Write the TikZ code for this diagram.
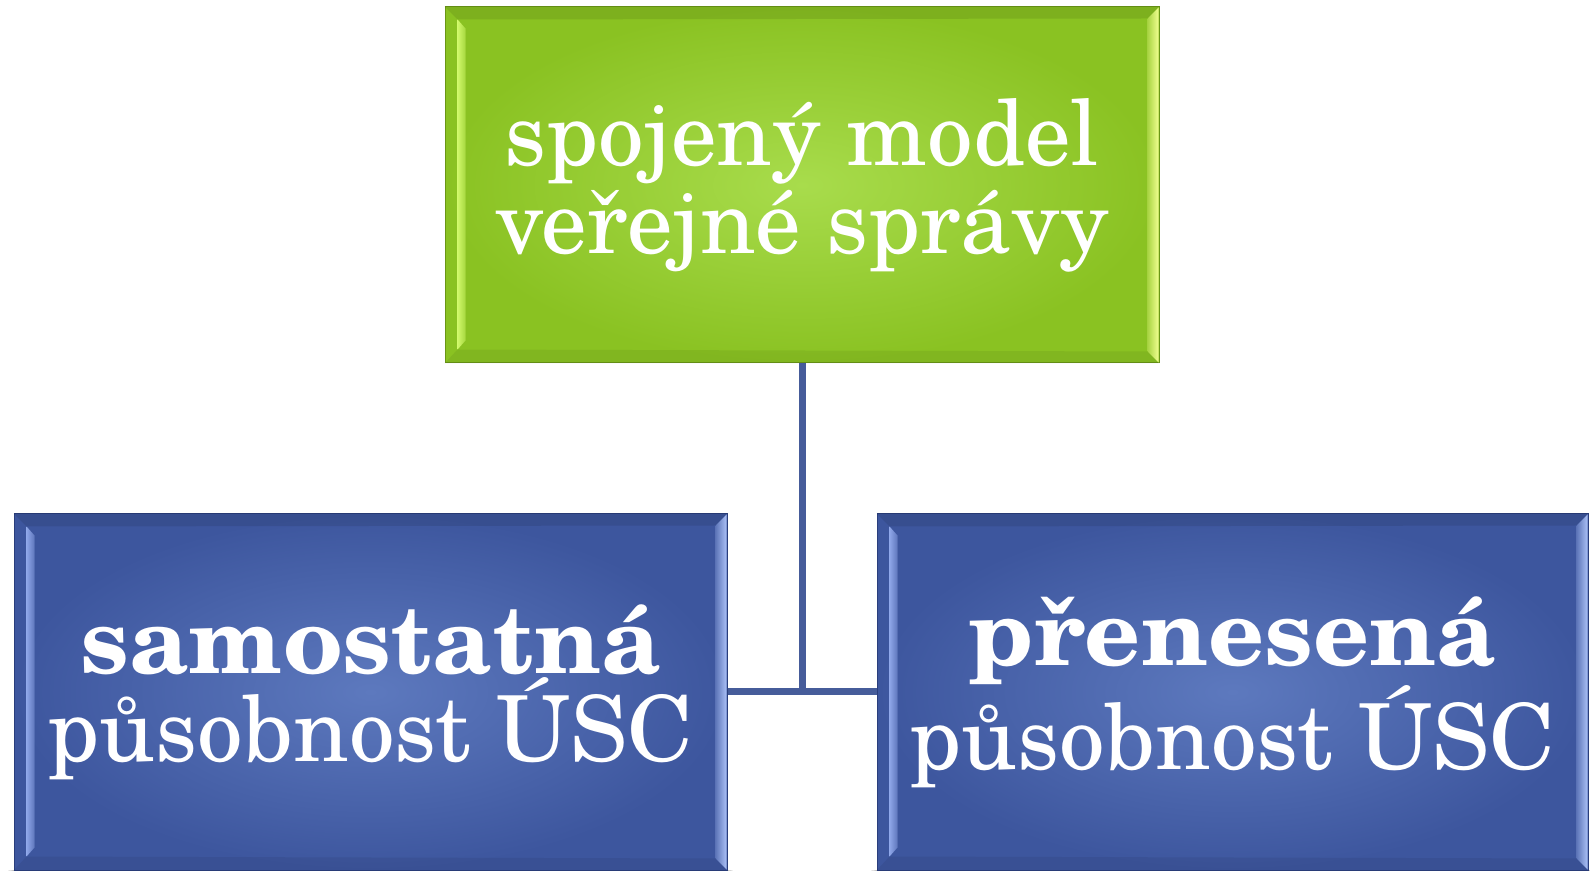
\documentclass[tikz,border=0pt]{standalone}
\usepackage{fontspec}
\setmainfont{TeX Gyre Schola}
\usetikzlibrary{backgrounds}
\definecolor{gbase}{HTML}{8AC222}
\definecolor{gcenter}{HTML}{A8DC4C}
\definecolor{gedge}{HTML}{6A9616}
\definecolor{glight}{HTML}{D0F86A}
\definecolor{glight2}{HTML}{F0FF90}
\definecolor{bbase}{HTML}{3D569E}
\definecolor{bcenter}{HTML}{5D79BE}
\definecolor{bedge}{HTML}{2A3E7C}
\definecolor{blight}{HTML}{8EA6E8}
\definecolor{blight2}{HTML}{AAC0F6}
\definecolor{conn}{HTML}{465C9A}
\tikzset{
  box/.style={rectangle, inner sep=0pt, line width=1pt, text=white, align=center,
    font=\fontsize{91}{88}\selectfont},
  greenbox/.style={box, draw=gedge, inner color=gcenter, outer color=gbase},
  bluebox/.style={box, draw=bedge, inner color=bcenter, outer color=bbase},
  connline/.style={draw=conn, line width=7pt},
}
\newcommand\boldword[1]{\scalebox{1.03}[1]{\fontsize{95}{88}\selectfont\bfseries #1}}
\newcommand\bevelbox[4]{%
  \fill[black,opacity=0.09] (#1.north west) -- (#1.north east) -- ([shift={(-11,-12)}]#1.north east) -- ([shift={(13,-13)}]#1.north west) -- cycle;
  \fill[black,opacity=0.06] (#1.south west) -- (#1.south east) -- ([shift={(-11,12)}]#1.south east) -- ([shift={(13,14)}]#1.south west) -- cycle;
  \shade[left color=#2, right color=#2!40!#4] ([shift={(13,-13)}]#1.north west) -- ([shift={(21,-22)}]#1.north west) -- ([shift={(21,23)}]#1.south west) -- ([shift={(13,14)}]#1.south west) -- cycle;
  \shade[left color=#3!30!#4, right color=#3] ([shift={(-1,-1)}]#1.north east) -- ([shift={(-12,-12)}]#1.north east) -- ([shift={(-12,12)}]#1.south east) -- ([shift={(-1,1)}]#1.south east) -- cycle;
}
\newcommand\softshadow[1]{%
  \begin{scope}[on background layer]
    \foreach \d in {1,3,5,7,9}{
      \fill[black,opacity=0.06] ([shift={(-\d*0.6,-\d-2)}]#1.south west) rectangle ([shift={(\d*0.6,-\d*0.3)}]#1.north east);
    }
  \end{scope}
}
\begin{document}
\begin{tikzpicture}[x=1pt,y=1pt]
\useasboundingbox[fill=white] (0,0) rectangle (1590,870);
\node[greenbox, minimum width=714pt, minimum height=356pt] (T) at (802,685) {spojený model\\veřejné správy};
\node[bluebox, minimum width=713pt, minimum height=356pt] (L) at (370.5,178) {\boldword{samostatná}\\působnost ÚSC};
\node[bluebox, minimum width=711pt, minimum height=356pt] (R) at (1232.5,178) {\boldword{přenesená}\\působnost ÚSC};
\softshadow{T}
\softshadow{L}
\softshadow{R}
\bevelbox{T}{glight}{glight2}{gbase}
\bevelbox{L}{blight}{blight2}{bbase}
\bevelbox{R}{blight}{blight2}{bbase}
\draw[connline] (T.south) -- (T.south |- L.east);
\draw[connline] (L.east) -- (R.west);
\end{tikzpicture}
\end{document}
